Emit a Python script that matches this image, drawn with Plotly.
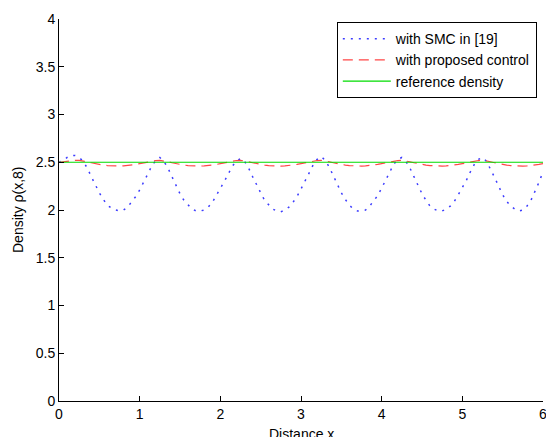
import plotly.graph_objects as go

x = [round(i * 0.05, 2) for i in range(121)]

smc = [
    2.50, 2.52, 2.55, 2.57, 2.57, 2.55,
    2.51, 2.44, 2.35, 2.26, 2.18, 2.11, 2.05, 2.02, 2.00, 1.99,
    2.00, 2.03, 2.08, 2.14, 2.21, 2.29, 2.38, 2.46, 2.52, 2.55,
    2.51, 2.44, 2.35, 2.26, 2.17, 2.10, 2.05, 2.01, 1.99, 1.99,
    2.00, 2.03, 2.08, 2.15, 2.22, 2.30, 2.38, 2.46, 2.51, 2.54,
    2.51, 2.44, 2.35, 2.26, 2.18, 2.10, 2.05, 2.01, 1.99, 1.98,
    2.00, 2.03, 2.08, 2.14, 2.22, 2.30, 2.39, 2.47, 2.53, 2.56,
    2.52, 2.45, 2.36, 2.27, 2.18, 2.11, 2.05, 2.01, 1.99, 1.99,
    2.00, 2.04, 2.09, 2.15, 2.23, 2.31, 2.40, 2.48, 2.53, 2.55,
    2.51, 2.44, 2.35, 2.26, 2.17, 2.10, 2.04, 2.01, 1.99, 1.99,
    2.01, 2.04, 2.09, 2.16, 2.23, 2.31, 2.40, 2.48, 2.53, 2.55,
    2.51, 2.43, 2.34, 2.25, 2.16, 2.09, 2.04, 2.01, 1.99, 2.00,
    2.04, 2.10, 2.19, 2.29, 2.40,
]

proposed = [
    2.500, 2.505, 2.512, 2.518, 2.520, 2.520,
    2.515, 2.505, 2.495, 2.485, 2.477, 2.470, 2.465, 2.462, 2.460, 2.460,
    2.462, 2.465, 2.470, 2.477, 2.485, 2.495, 2.505, 2.513, 2.518, 2.520,
    2.515, 2.505, 2.495, 2.485, 2.477, 2.470, 2.465, 2.462, 2.460, 2.460,
    2.462, 2.465, 2.470, 2.477, 2.485, 2.495, 2.505, 2.513, 2.518, 2.520,
    2.515, 2.505, 2.495, 2.485, 2.477, 2.470, 2.465, 2.462, 2.460, 2.460,
    2.462, 2.465, 2.470, 2.477, 2.485, 2.495, 2.505, 2.513, 2.518, 2.520,
    2.515, 2.505, 2.495, 2.485, 2.477, 2.470, 2.465, 2.462, 2.460, 2.460,
    2.462, 2.465, 2.470, 2.477, 2.485, 2.495, 2.505, 2.513, 2.518, 2.520,
    2.515, 2.505, 2.495, 2.485, 2.477, 2.470, 2.465, 2.462, 2.460, 2.460,
    2.462, 2.465, 2.470, 2.477, 2.485, 2.495, 2.505, 2.513, 2.518, 2.520,
    2.515, 2.505, 2.495, 2.485, 2.477, 2.470, 2.465, 2.462, 2.460, 2.460,
    2.462, 2.465, 2.470, 2.477, 2.485,
]

reference = [2.5] * len(x)

x_ticks = [0, 1, 2, 3, 4, 5, 6]
y_ticks = [0, 0.5, 1, 1.5, 2, 2.5, 3, 3.5, 4]
y_tick_labels = ["0", "0.5", "1", "1.5", "2", "2.5", "3", "3.5", "4"]

fig = go.Figure()
fig.add_trace(go.Scatter(x=x, y=smc, mode="lines", name="with SMC in [19]",
                         line=dict(color="rgb(60,60,255)", width=1.5, dash="2px,6px")))
fig.add_trace(go.Scatter(x=x, y=proposed, mode="lines", name="with proposed control",
                         line=dict(color="rgb(255,70,70)", width=1.2, dash="10px,6px")))
fig.add_trace(go.Scatter(x=x, y=reference, mode="lines", name="reference density",
                         line=dict(color="rgb(0,220,0)", width=1.2)))

axis_common = dict(showline=True, linecolor="black", linewidth=1, ticks="inside",
                   ticklen=5, tickcolor="black", showgrid=False, zeroline=False,
                   mirror=False, tickfont=dict(size=14, color="black"),
                   ticklabeloverflow="allow", automargin=False)

fig.update_layout(
    width=546, height=437,
    margin=dict(l=59, r=3, t=19, b=36),
    paper_bgcolor="white", plot_bgcolor="white",
    font=dict(family="Liberation Sans, Arial, sans-serif", size=14, color="black"),
    xaxis=dict(range=[0, 6], tickvals=x_ticks, **axis_common),
    yaxis=dict(range=[0, 4], tickvals=y_ticks, ticktext=y_tick_labels, **axis_common),
    legend=dict(x=0.574, y=0.992, xanchor="left", yanchor="top",
                bgcolor="white", bordercolor="black", borderwidth=1,
                font=dict(size=14), tracegroupgap=0, itemwidth=48),
    showlegend=True,
    annotations=[
        dict(text="Distance x", xref="paper", yref="paper", x=0.5, y=0,
             xanchor="center", yanchor="top", yshift=-23, showarrow=False,
             font=dict(size=14)),
        dict(text="Density ρ(x,8)", xref="paper", yref="paper", x=0, y=0.5,
             xanchor="center", yanchor="middle", xshift=-41, textangle=-90,
             showarrow=False, font=dict(size=14)),
    ],
)

fig.write_html("out.html", config={"displayModeBar": False},
               post_script="document.body.style.margin='0';document.body.style.overflow='hidden';")
